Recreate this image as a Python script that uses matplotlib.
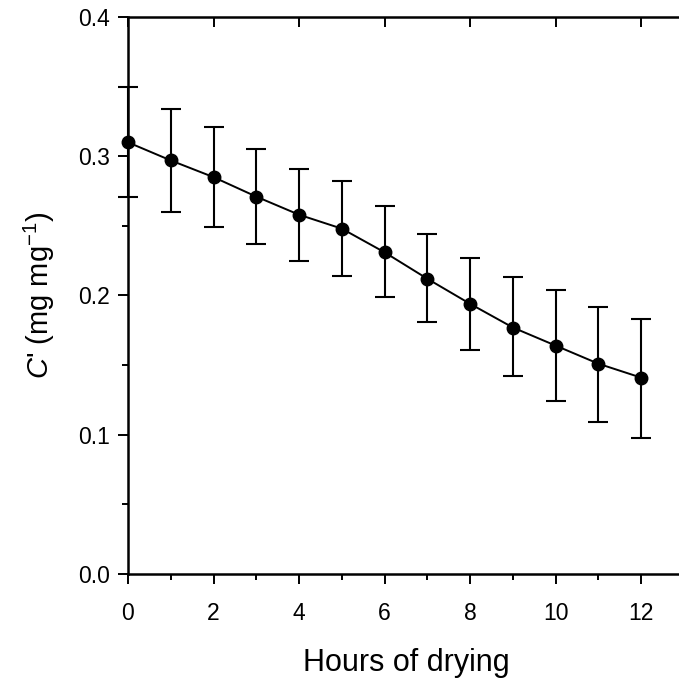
import numpy as np
import matplotlib
matplotlib.use("Agg")
import matplotlib.pyplot as plt
from matplotlib.ticker import MultipleLocator

plt.rcParams['font.family'] = ['Liberation Sans', 'DejaVu Sans']
plt.rcParams['mathtext.fontset'] = 'custom'
plt.rcParams['mathtext.rm'] = 'Liberation Sans'
plt.rcParams['mathtext.it'] = 'Liberation Sans:italic'

# data
hours = [0, 1, 2, 3, 4, 5, 6, 7, 8, 9, 10, 11, 12]
c_mean = [0.310, 0.297, 0.285, 0.271, 0.258, 0.248, 0.231, 0.212, 0.194, 0.177, 0.164, 0.151, 0.141]
c_low = [0.271, 0.260, 0.249, 0.237, 0.225, 0.214, 0.199, 0.181, 0.161, 0.142, 0.124, 0.109, 0.098]
c_high = [0.350, 0.334, 0.321, 0.305, 0.291, 0.282, 0.264, 0.244, 0.227, 0.213, 0.204, 0.192, 0.183]

mean = np.array(c_mean)
yerr = [mean - np.array(c_low), np.array(c_high) - mean]

fig = plt.figure(figsize=(6.79, 6.83), dpi=100)
# right spine sits just past the figure edge, like the original crop
ax = fig.add_axes([128 / 679, 109 / 683, 556 / 679, 557 / 683])

ax.errorbar(hours, mean, yerr=yerr, color='black', lw=1.4, elinewidth=1.5,
            capsize=7.2, capthick=1.5, marker='o', ms=9, clip_on=False, zorder=3)

ax.set_xlim(0, 13)
ax.set_ylim(0, 0.4)
ax.xaxis.set_minor_locator(MultipleLocator(1))
ax.yaxis.set_major_locator(MultipleLocator(0.1))
ax.yaxis.set_minor_locator(MultipleLocator(0.05))
ax.set_xticks([0, 2, 4, 6, 8, 10, 12])
ax.yaxis.set_major_formatter(matplotlib.ticker.FormatStrFormatter('%.1f'))

for s in ax.spines.values():
    s.set_linewidth(1.8)

ax.tick_params(which='major', direction='out', length=7, width=1.4, labelsize=16.5)
ax.tick_params(which='minor', direction='out', length=4.5, width=1.4)
ax.tick_params(axis='x', which='major', top=True, labeltop=False, pad=13)
ax.tick_params(axis='y', which='major', pad=6)
ax.tick_params(axis='x', which='minor', top=False)
# top ticks point inward
for t in ax.xaxis.get_major_ticks():
    t.tick2line.set_marker(3)  # TICKDOWN
    t.tick2line.set_markersize(7)

ax.set_xlabel('Hours of drying', fontsize=22, labelpad=17)
ax.set_ylabel("$C$' (mg mg$^{-1}$)", fontsize=21, labelpad=15)

fig.savefig('out.png', dpi=100)
